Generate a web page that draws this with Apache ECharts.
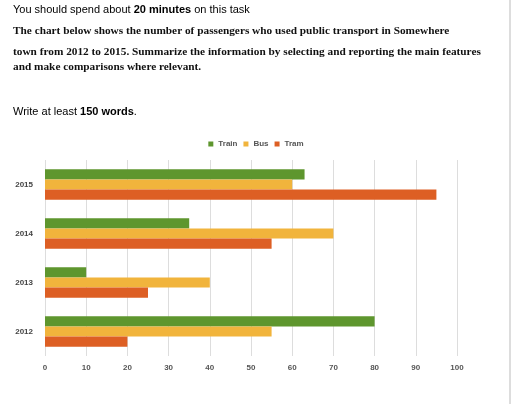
<!DOCTYPE html>
<html>
<head>
<meta charset="UTF-8">
<title>passengers</title>
<script src="https://cdn.jsdelivr.net/npm/echarts@6/dist/echarts.min.js"></script>
<style>
  body { margin:0; background:#fff; }
  #main { width:512px; height:404px; }
</style>
</head>
<body>
<div id="main"></div>
<script>
var years = ['2012', '2013', '2014', '2015'];
var train = [80, 10, 35, 63];
var bus = [55, 40, 70, 60];
var tram = [20, 25, 55, 95];
var xTicks = [0, 10, 20, 30, 40, 50, 60, 70, 80, 90, 100];

var chart = echarts.init(document.getElementById('main'));
var serif = { fontFamily: 'Liberation Serif', fontWeight: 'bold', fontSize: 11.3, fill: '#111' };
chart.setOption({
  backgroundColor: '#fff',
  animation: false,
  graphic: [
    { type: 'text', left: 13, top: 4, style: { text: '{a|You should spend about }{b|20 minutes}{a| on this task}', rich: { a: { fontFamily: 'Arial', fontSize: 11, color: '#333' }, b: { fontFamily: 'Arial', fontSize: 11, fontWeight: 'bold', color: '#111' } } } },
    { type: 'text', left: 13, top: 26, style: Object.assign({ text: 'The chart below shows the number of passengers who used public transport in Somewhere' }, serif) },
    { type: 'text', left: 13, top: 47, style: Object.assign({ text: 'town from 2012 to 2015. Summarize the information by selecting and reporting the main features' }, serif) },
    { type: 'text', left: 13, top: 62, style: Object.assign({ text: 'and make comparisons where relevant.' }, serif) },
    { type: 'text', left: 13, top: 106, style: { text: '{a|Write at least }{b|150 words}{a|.}', rich: { a: { fontFamily: 'Arial', fontSize: 11, color: '#333' }, b: { fontFamily: 'Arial', fontSize: 11, fontWeight: 'bold', color: '#111' } } } },
    { type: 'line', shape: { x1: 510, y1: 0, x2: 510, y2: 404 }, style: { stroke: '#bbb', lineWidth: 1 } }
  ],
  legend: {
    data: ['Train', 'Bus', 'Tram'],
    top: 135, left: 'center', icon: 'rect',
    itemWidth: 5, itemHeight: 5, itemGap: 6,
    textStyle: { fontSize: 8, color: '#555', fontWeight: 'bold' }
  },
  grid: { left: 45, right: 55, top: 160, bottom: 48 },
  xAxis: {
    type: 'value', min: 0, max: 100, interval: 10,
    axisLabel: { fontSize: 8, color: '#555', fontWeight: 'bold', formatter: function (v) { return xTicks.indexOf(v) >= 0 ? v : ''; } },
    splitLine: { lineStyle: { color: '#ddd' } },
    axisLine: { show: false }, axisTick: { show: false }
  },
  yAxis: {
    type: 'category', data: years,
    axisLabel: { fontSize: 8, color: '#444', fontWeight: 'bold', margin: 12 },
    axisLine: { show: false }, axisTick: { show: false }
  },
  series: [
    { name: 'Train', type: 'bar', data: train, itemStyle: { color: '#5e962e' }, barGap: '0%', barCategoryGap: '38%' },
    { name: 'Bus', type: 'bar', data: bus, itemStyle: { color: '#f1b43c' } },
    { name: 'Tram', type: 'bar', data: tram, itemStyle: { color: '#dd5f24' } }
  ]
});
</script>
</body>
</html>
